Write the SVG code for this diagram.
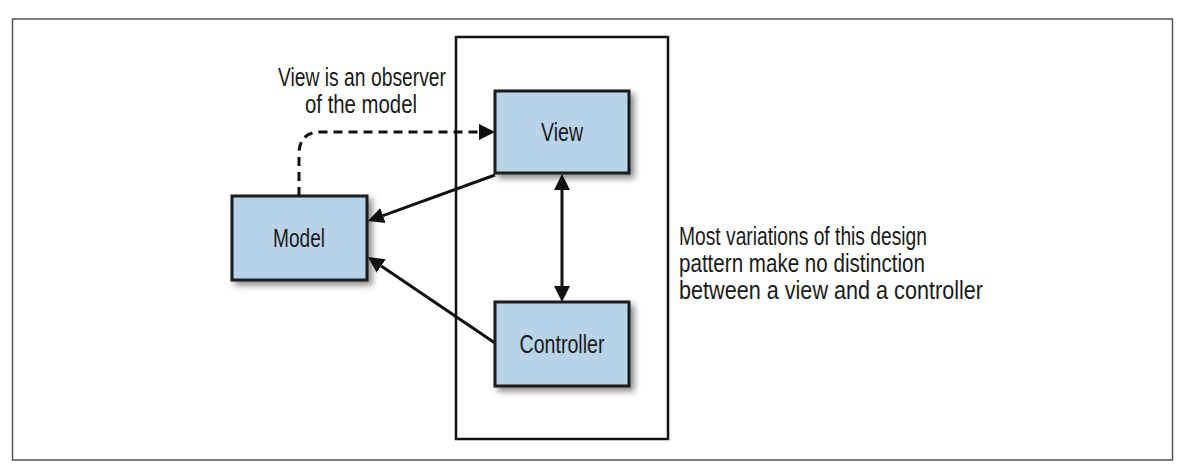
<svg xmlns="http://www.w3.org/2000/svg" width="1190" height="472" viewBox="0 0 1190 472">
<style>
.frame{fill:none;stroke:#555;stroke-width:1.5}
.box{fill:#b8d3e8;stroke:#1a1a1a;stroke-width:3;filter:url(#sh)}
.cont{fill:none;stroke:#111;stroke-width:2.5}
.lbl{font-family:"Liberation Sans Narrow","Liberation Sans",Arial,sans-serif;font-size:25px;fill:#1a1a1a}
.conn{fill:none;stroke:#111;stroke-width:3}
</style>
<defs>
<filter id="sh" x="-20%" y="-20%" width="150%" height="150%">
<feDropShadow dx="4" dy="4" stdDeviation="3" flood-color="#000" flood-opacity="0.45"/>
</filter>
<marker id="ah" markerUnits="userSpaceOnUse" markerWidth="20" markerHeight="20" viewBox="0 -10 20 20" refX="0" refY="0" orient="auto-start-reverse">
<path d="M0,-8 L16,0 L0,8 z" fill="#111"/>
</marker>
</defs>
<rect width="1190" height="472" fill="#fff"/>
<rect class="frame" x="12.5" y="19" width="1160" height="441"/>
<g id="container"><rect class="cont" x="456" y="37" width="212" height="402"/></g>
<g id="connectors">
<path class="conn" d="M495,175 L383,215.6" marker-end="url(#ah)"/>
<path class="conn" d="M495,343 L381.2,266" marker-end="url(#ah)"/>
<path class="conn" d="M562,190 L562,286" marker-start="url(#ah)" marker-end="url(#ah)"/>
<path class="conn" d="M299,196 V154 Q299,132 321,132 H479" stroke-dasharray="9,6" marker-end="url(#ah)"/>
</g>
<g id="model"><rect class="box" x="232" y="196" width="135" height="84"/><text class="lbl" x="299" y="247" text-anchor="middle" textLength="52" lengthAdjust="spacingAndGlyphs">Model</text></g>
<g id="view"><rect class="box" x="495" y="91" width="134" height="82"/><text class="lbl" x="562" y="141" text-anchor="middle" textLength="42" lengthAdjust="spacingAndGlyphs">View</text></g>
<g id="controller"><rect class="box" x="495" y="302" width="134" height="84"/><text class="lbl" x="562" y="353" text-anchor="middle" textLength="85" lengthAdjust="spacingAndGlyphs">Controller</text></g>
<g id="note-observer">
<text class="lbl" x="362" y="86" text-anchor="middle" textLength="168" lengthAdjust="spacingAndGlyphs">View is an observer</text>
<text class="lbl" x="361" y="113" text-anchor="middle" textLength="112" lengthAdjust="spacingAndGlyphs">of the model</text>
</g>
<g id="note-variations">
<text class="lbl" x="679" y="245" textLength="248" lengthAdjust="spacingAndGlyphs">Most variations of this design</text>
<text class="lbl" x="679" y="272" textLength="246" lengthAdjust="spacingAndGlyphs">pattern make no distinction</text>
<text class="lbl" x="679" y="299" textLength="304" lengthAdjust="spacingAndGlyphs">between a view and a controller</text>
</g>
</svg>
